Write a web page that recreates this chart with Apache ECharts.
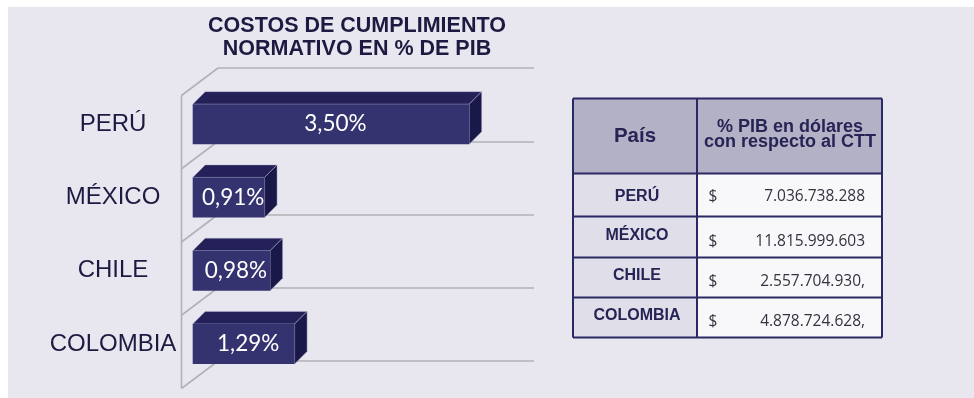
<!DOCTYPE html>
<html>
<head>
<meta charset="utf-8">
<script src="https://cdn.jsdelivr.net/npm/echarts@6/dist/echarts.min.js"></script>
<style>
  html, body { margin: 0; padding: 0; background: #ffffff; }
  #panel { position: absolute; left: 8px; top: 7px; width: 966px; height: 391px; background: #e8e7f0; }
  #chart { position: absolute; left: 0; top: 0; width: 974px; height: 398px; }
</style>
</head>
<body>
<div id="panel"></div>
<div id="chart"></div>
<script>
// Compliance cost as % of GDP, by country
const countries = ['PERÚ', 'MÉXICO', 'CHILE', 'COLOMBIA'];
const costPct = [3.50, 0.91, 0.98, 1.29];
const axisMin = 0;
const axisMax = 4;

// Side table: GDP share in dollars relative to the CTT
const tableHeader = ['País', '% PIB en dólares\ncon respecto al CTT'];
const tableCountries = ['PERÚ', 'MÉXICO', 'CHILE', 'COLOMBIA'];
const tableAmounts = ['7.036.738.288', '11.815.999.603', '2.557.704.930,', '4.878.724.628,'];

const chartTitle = 'COSTOS DE CUMPLIMIENTO\nNORMATIVO EN % DE PIB';

// Styling
const NAVY_TEXT = '#1c1a40';
const GRID_GREY = '#b1b1b6';
const FRONT = '#34326f';
const TOP = '#232157';
const SIDE = '#1a1849';
const WALL = { dx: -36.5, dy: 27.5 };             // front edge of the side wall vs. back wall
const BAR = { dx: -25.3, dy: 19.5, h: 40, depth: 12.5 };

function pct(v) {
  return v.toFixed(2).replace('.', ',') + '%';
}

function frameItem(params, api) {
  const i = api.value(1);
  const c = api.coord([axisMin, i]);
  const band = api.size([0, 1])[1];
  const x0 = c[0];
  const yBottom = c[1] + band / 2;
  const style = { stroke: GRID_GREY, lineWidth: 1.6 };
  const children = [{
    type: 'line',
    shape: { x1: x0, y1: yBottom, x2: x0 + WALL.dx, y2: yBottom + WALL.dy },
    style: style
  }];
  if (i === 0) {
    const yTop = c[1] - band / 2;
    const yEnd = yTop + band * countries.length;
    children.push({
      type: 'line',
      shape: { x1: x0, y1: yTop, x2: x0 + WALL.dx, y2: yTop + WALL.dy },
      style: style
    });
    children.push({
      type: 'line',
      shape: { x1: x0 + WALL.dx, y1: yTop + WALL.dy, x2: x0 + WALL.dx, y2: yEnd + WALL.dy },
      style: style
    });
  }
  return { type: 'group', children: children };
}

function barItem(params, api) {
  const v = api.value(0);
  const i = api.value(1);
  const p0 = api.coord([axisMin, i]);
  const p1 = api.coord([v, i]);
  const xl = p0[0] + BAR.dx;
  const xr = p1[0] + BAR.dx;
  const yc = p0[1] + BAR.dy;
  const yt = yc - BAR.h / 2;
  const yb = yc + BAR.h / 2;
  const d = BAR.depth;
  const edge = { stroke: 'rgba(190,189,220,0.55)', lineWidth: 0.8 };
  return {
    type: 'group',
    children: [
      {
        type: 'polygon',
        shape: { points: [[xl, yt], [xr, yt], [xr + d, yt - d], [xl + d, yt - d]] },
        style: Object.assign({ fill: TOP }, edge)
      },
      {
        type: 'polygon',
        shape: { points: [[xr, yt], [xr + d, yt - d], [xr + d, yb - d], [xr, yb]] },
        style: Object.assign({ fill: SIDE }, edge)
      },
      {
        type: 'rect',
        shape: { x: xl, y: yt, width: xr - xl, height: BAR.h },
        style: { fill: FRONT }
      },
      {
        type: 'text',
        x: (xl + xr) / 2 + 4.5,
        y: yc,
        style: {
          text: pct(v),
          fill: '#ffffff',
          font: '22.5px Lato, "Open Sans", sans-serif',
          align: 'center',
          verticalAlign: 'middle'
        }
      },
      {
        type: 'text',
        x: p0[0] - 105,
        y: yc,
        style: {
          text: countries[i],
          fill: NAVY_TEXT,
          font: '24px "Liberation Sans", Arial, sans-serif',
          align: 'center',
          verticalAlign: 'middle'
        }
      }
    ]
  };
}

// Side table built from the arrays above
function buildTable() {
  const x = 573, y = 98.5, colW = 124, w = 309;
  const rowH = [75, 43, 41, 40, 40];
  const border = '#2b2963';
  const els = [];
  const ys = [y];
  rowH.forEach(h => ys.push(ys[ys.length - 1] + h));
  const bottom = ys[ys.length - 1];

  els.push({ type: 'rect', shape: { x: x, y: ys[0], width: w, height: rowH[0] }, style: { fill: '#b2b1c6' } });
  for (let r = 0; r < tableCountries.length; r++) {
    els.push({ type: 'rect', shape: { x: x, y: ys[r + 1], width: colW, height: rowH[r + 1] }, style: { fill: '#e0dfe9' } });
    els.push({ type: 'rect', shape: { x: x + colW, y: ys[r + 1], width: w - colW, height: rowH[r + 1] }, style: { fill: '#f8f8fb' } });
  }
  ys.forEach(yy => {
    els.push({ type: 'line', shape: { x1: x, y1: yy, x2: x + w, y2: yy }, style: { stroke: border, lineWidth: 2 } });
  });
  [x, x + colW, x + w].forEach(xx => {
    els.push({ type: 'line', shape: { x1: xx, y1: y, x2: xx, y2: bottom }, style: { stroke: border, lineWidth: 2 } });
  });

  const headFont = 'bold 20.5px "Liberation Sans", Arial, sans-serif';
  els.push({
    type: 'text', x: 635, y: y + rowH[0] / 2 + 0.5,
    style: { text: tableHeader[0], fill: '#262454', font: headFont, align: 'center', verticalAlign: 'middle' }
  });
  els.push({
    type: 'text', x: 790, y: y + rowH[0] / 2 - 1.5,
    style: {
      text: tableHeader[1], fill: '#262454', font: 'bold 18px "Liberation Sans", Arial, sans-serif',
      lineHeight: 15.5, align: 'center', verticalAlign: 'middle'
    }
  });

  for (let r = 0; r < tableCountries.length; r++) {
    const cy = ys[r + 1] + rowH[r + 1] / 2;
    els.push({
      type: 'text', x: 637, y: cy - (r === 0 ? -1.5 : 1.5),
      style: { text: tableCountries[r], fill: '#262454', font: 'bold 16px "Liberation Sans", Arial, sans-serif', align: 'center', verticalAlign: 'middle' }
    });
    const vy = cy + (r === 0 ? 2 : 4.5);
    els.push({
      type: 'text', x: 708.5, y: vy,
      style: { text: '$', fill: '#33333f', font: '15.5px "Open Sans", sans-serif', align: 'left', verticalAlign: 'middle' }
    });
    els.push({
      type: 'text', x: 865, y: vy,
      style: { text: tableAmounts[r], fill: '#33333f', font: '15.5px "Open Sans", sans-serif', align: 'right', verticalAlign: 'middle' }
    });
  }
  return els;
}

const chart = echarts.init(document.getElementById('chart'), null, { renderer: 'canvas' });

chart.setOption({
  backgroundColor: 'transparent',
  animation: false,
  grid: { left: 218, top: 68, width: 316, height: 293, containLabel: false },
  xAxis: {
    type: 'value',
    min: axisMin,
    max: axisMax,
    interval: 1,
    axisLine: { show: false },
    axisTick: { show: false },
    axisLabel: { show: false },
    splitLine: { show: false }
  },
  yAxis: {
    type: 'category',
    data: countries,
    inverse: true,
    boundaryGap: true,
    axisLine: { show: false },
    axisTick: { show: false },
    axisLabel: { show: false },
    splitLine: { show: true, lineStyle: { color: GRID_GREY, width: 1.6 } }
  },
  graphic: [
    {
      type: 'text',
      x: 357,
      y: 38,
      style: {
        text: chartTitle,
        fill: NAVY_TEXT,
        font: 'bold 21.5px "Liberation Sans", Arial, sans-serif',
        lineHeight: 23,
        align: 'center',
        verticalAlign: 'middle'
      }
    }
  ].concat(buildTable()),
  series: [
    {
      type: 'custom',
      name: 'frame',
      z: 1,
      silent: true,
      renderItem: frameItem,
      data: countries.map((c, i) => [axisMin, i])
    },
    {
      type: 'custom',
      name: 'costos',
      z: 3,
      silent: true,
      renderItem: barItem,
      data: costPct.map((v, i) => [v, i])
    }
  ]
});
</script>
</body>
</html>
